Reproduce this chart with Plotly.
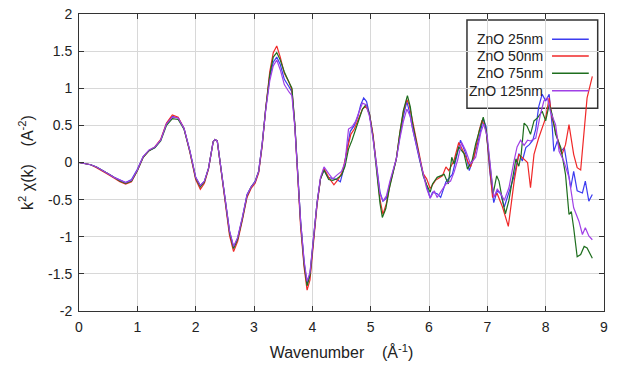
import plotly.graph_objects as go

# ---------------- data ----------------
k_head = [0, 0.1, 0.2, 0.3, 0.4, 0.5, 0.6, 0.7, 0.8, 0.9, 1.0, 1.1, 1.2, 1.3, 1.4,
          1.5, 1.6, 1.7, 1.8, 1.9, 2.0, 2.08, 2.15, 2.22, 2.3, 2.33, 2.37, 2.42, 2.5,
          2.58, 2.65, 2.72, 2.8, 2.88, 2.95, 3.02, 3.08, 3.14, 3.2, 3.27, 3.33, 3.39,
          3.45, 3.52, 3.6, 3.65, 3.7, 3.75, 3.8, 3.86, 3.91, 3.96, 4.02, 4.08, 4.14]

y25_head = [0, -0.01, -0.03, -0.06, -0.10, -0.15, -0.20, -0.24, -0.27, -0.23, -0.09, 0.08,
            0.16, 0.20, 0.30, 0.52, 0.62, 0.60, 0.46, 0.16, -0.20, -0.31, -0.25, -0.08,
            0.28, 0.31, 0.29, 0.0, -0.48, -0.92, -1.14, -1.02, -0.75, -0.43, -0.33, -0.25,
            -0.12, 0.25, 0.72, 1.15, 1.35, 1.42, 1.32, 1.12, 1.02, 0.95, 0.50, -0.20,
            -0.80, -1.35, -1.63, -1.50, -1.05, -0.55, -0.22]
y50_head = [0, -0.01, -0.03, -0.07, -0.11, -0.16, -0.21, -0.26, -0.29, -0.26, -0.11, 0.07,
            0.16, 0.21, 0.31, 0.53, 0.64, 0.61, 0.46, 0.14, -0.23, -0.36, -0.28, -0.09,
            0.28, 0.31, 0.29, -0.02, -0.52, -0.98, -1.20, -1.06, -0.78, -0.47, -0.35, -0.28,
            -0.14, 0.22, 0.72, 1.22, 1.48, 1.57, 1.42, 1.20, 1.08, 0.98, 0.50, -0.25,
            -0.88, -1.42, -1.72, -1.58, -1.10, -0.58, -0.22]
y75_head = [0, -0.01, -0.03, -0.06, -0.10, -0.15, -0.20, -0.25, -0.28, -0.25, -0.11, 0.07,
            0.16, 0.20, 0.29, 0.50, 0.59, 0.58, 0.45, 0.15, -0.21, -0.33, -0.26, -0.08,
            0.28, 0.31, 0.29, 0.0, -0.49, -0.94, -1.16, -1.03, -0.76, -0.45, -0.33, -0.26,
            -0.12, 0.24, 0.72, 1.18, 1.42, 1.48, 1.38, 1.22, 1.08, 1.00, 0.52, -0.20,
            -0.82, -1.38, -1.66, -1.52, -1.06, -0.55, -0.22]
y125_head = [0, -0.01, -0.03, -0.06, -0.10, -0.15, -0.20, -0.24, -0.27, -0.24, -0.10, 0.08,
             0.17, 0.21, 0.30, 0.52, 0.61, 0.60, 0.46, 0.16, -0.20, -0.31, -0.25, -0.08,
             0.28, 0.31, 0.29, 0.0, -0.48, -0.92, -1.13, -1.01, -0.74, -0.44, -0.33, -0.26,
             -0.12, 0.25, 0.70, 1.10, 1.30, 1.38, 1.25, 1.05, 0.95, 0.90, 0.48, -0.20,
             -0.80, -1.33, -1.60, -1.48, -1.03, -0.55, -0.20]

k25_tail = [4.2, 4.27, 4.35, 4.42, 4.48, 4.54, 4.6, 4.65, 4.72, 4.78, 4.83, 4.88, 4.93, 4.98,
            5.04, 5.1, 5.16, 5.21, 5.27, 5.33, 5.38, 5.44, 5.5, 5.56, 5.62, 5.66, 5.72, 5.78,
            5.84, 5.9, 5.96, 6.02, 6.06, 6.14, 6.2, 6.29, 6.4, 6.49, 6.54, 6.63, 6.69, 6.77,
            6.86, 6.93, 6.98, 7.04, 7.11, 7.17, 7.23, 7.29, 7.37, 7.46, 7.54, 7.6, 7.66, 7.72,
            7.78, 7.83, 7.88, 7.94, 8.0, 8.06, 8.11, 8.14, 8.2, 8.26, 8.32, 8.37, 8.43, 8.48,
            8.54, 8.63, 8.68, 8.74, 8.8]
y25_tail = [-0.10, -0.20, -0.22, -0.23, -0.26, -0.08, 0.20, 0.42, 0.50, 0.62, 0.78, 0.87, 0.82,
            0.65, 0.35, -0.05, -0.40, -0.52, -0.48, -0.28, -0.13, 0.05, 0.35, 0.62, 0.82, 0.70,
            0.45, 0.22, 0.03, -0.15, -0.30, -0.48, -0.40, -0.42, -0.47, -0.26, -0.16, 0.12,
            0.30, 0.12, -0.11, 0.07, 0.34, 0.59, 0.48, -0.11, -0.54, -0.38, -0.42, -0.60,
            -0.40, -0.18, 0.12, 0.02, 0.20, 0.24, 0.30, 0.45, 0.75, 0.92, 0.83, 0.92, 0.51,
            0.15, 0.29, 0.15, 0.20, -0.07, -0.34, -0.12, -0.38, -0.41, -0.25, -0.52, -0.43]

k50_tail = [4.2, 4.28, 4.37, 4.45, 4.52, 4.6, 4.66, 4.72, 4.8, 4.86, 4.92, 4.98, 5.04, 5.1,
            5.16, 5.21, 5.27, 5.33, 5.38, 5.44, 5.5, 5.56, 5.62, 5.66, 5.72, 5.78, 5.84, 5.9,
            5.96, 6.02, 6.11, 6.23, 6.29, 6.34, 6.43, 6.51, 6.57, 6.66, 6.71, 6.77, 6.86, 6.91,
            6.98, 7.04, 7.09, 7.17, 7.26, 7.36, 7.41, 7.46, 7.54, 7.63, 7.69, 7.74, 7.8, 7.88,
            8.0, 8.06, 8.11, 8.17, 8.28, 8.34, 8.4, 8.48, 8.54, 8.6, 8.66, 8.71, 8.8]
y50_tail = [-0.08, -0.20, -0.30, -0.22, -0.12, 0.18, 0.38, 0.45, 0.60, 0.72, 0.76, 0.65, 0.38,
            -0.05, -0.50, -0.70, -0.55, -0.30, -0.12, 0.05, 0.40, 0.68, 0.85, 0.78, 0.55, 0.32,
            0.10, -0.15, -0.22, -0.35, -0.24, -0.18, -0.06, -0.11, 0.03, 0.27, 0.18, 0.03,
            -0.06, 0.07, 0.43, 0.57, 0.43, -0.06, -0.47, -0.42, -0.60, -0.86, -0.55, -0.25,
            0.11, 0.05, 0.00, -0.34, 0.11, 0.33, 0.60, 0.87, 0.60, 0.42, 0.11, 0.24, 0.51,
            0.11, -0.07, -0.10, 0.42, 0.87, 1.16]

k75_tail = [4.2, 4.28, 4.35, 4.42, 4.5, 4.56, 4.62, 4.68, 4.74, 4.8, 4.86, 4.92, 4.98, 5.04,
            5.1, 5.16, 5.2, 5.26, 5.32, 5.38, 5.44, 5.5, 5.56, 5.63, 5.68, 5.72, 5.78, 5.84,
            5.9, 5.96, 6.02, 6.06, 6.14, 6.26, 6.33, 6.39, 6.43, 6.51, 6.6, 6.66, 6.74, 6.8,
            6.89, 6.93, 6.98, 7.04, 7.1, 7.16, 7.2, 7.26, 7.31, 7.37, 7.43, 7.49, 7.54, 7.58,
            7.63, 7.68, 7.74, 7.8, 7.86, 7.94, 8.0, 8.06, 8.11, 8.17, 8.26, 8.34, 8.4, 8.44,
            8.48, 8.54, 8.6, 8.66, 8.71, 8.8]
y75_tail = [-0.10, -0.23, -0.24, -0.22, -0.17, -0.05, 0.18, 0.30, 0.45, 0.60, 0.72, 0.78, 0.65,
            0.35, -0.10, -0.55, -0.74, -0.62, -0.35, -0.15, 0.05, 0.40, 0.70, 0.90, 0.75, 0.52,
            0.28, 0.05, -0.18, -0.30, -0.40, -0.29, -0.20, -0.16, -0.29, 0.07, -0.02, 0.21,
            0.12, -0.09, 0.03, 0.25, 0.52, 0.61, 0.43, -0.02, -0.42, -0.18, -0.25, -0.51,
            -0.69, -0.51, -0.25, 0.05, -0.05, 0.11, 0.53, 0.49, 0.38, 0.56, 0.60, 0.69, 0.56,
            0.78, 0.65, 0.38, 0.20, -0.16, -0.70, -0.66, -0.88, -1.27, -1.24, -1.13, -1.15,
            -1.29]

k125_tail = [4.2, 4.28, 4.35, 4.42, 4.5, 4.56, 4.62, 4.68, 4.74, 4.8, 4.86, 4.92, 4.98, 5.04,
             5.1, 5.16, 5.21, 5.27, 5.33, 5.38, 5.44, 5.5, 5.56, 5.62, 5.68, 5.72, 5.78, 5.84,
             5.9, 5.96, 6.02, 6.09, 6.14, 6.2, 6.29, 6.37, 6.43, 6.49, 6.56, 6.63, 6.71, 6.8,
             6.89, 6.94, 7.0, 7.06, 7.11, 7.17, 7.23, 7.29, 7.37, 7.46, 7.51, 7.57, 7.63, 7.69,
             7.74, 7.83, 7.91, 7.97, 8.03, 8.08, 8.17, 8.23, 8.31, 8.4, 8.48, 8.57, 8.63, 8.68,
             8.74, 8.8]
y125_tail = [-0.06, -0.15, -0.22, -0.17, -0.12, 0.0, 0.45, 0.48, 0.55, 0.68, 0.80, 0.78, 0.62,
             0.32, -0.05, -0.42, -0.52, -0.45, -0.25, -0.12, 0.05, 0.32, 0.55, 0.72, 0.62, 0.45,
             0.25, 0.05, -0.18, -0.35, -0.48, -0.38, -0.47, -0.40, -0.29, -0.25, -0.13, 0.03,
             0.27, 0.16, -0.02, 0.07, 0.41, 0.52, 0.34, -0.11, -0.47, -0.36, -0.42, -0.51,
             -0.34, 0.03, 0.21, 0.30, 0.23, 0.30, 0.29, 0.33, 0.65, 0.83, 0.87, 0.69, 0.51,
             0.15, 0.02, -0.20, -0.61, -0.79, -0.97, -0.88, -0.99, -1.04]

series_names = ["ZnO 25nm", "ZnO 50nm", "ZnO 75nm", "ZnO 125nm"]
series_colors = ["#3c3cf0", "#f02828", "#1e6e1e", "#a040e6"]

x_ticks = [0, 1, 2, 3, 4, 5, 6, 7, 8, 9]
y_ticks = [-2, -1.5, -1, -0.5, 0, 0.5, 1, 1.5, 2]

# ---------------- figure ----------------
series = [
    (k_head + k25_tail, y25_head + y25_tail),
    (k_head + k50_tail, y50_head + y50_tail),
    (k_head + k75_tail, y75_head + y75_tail),
    (k_head + k125_tail, y125_head + y125_tail),
]

fig = go.Figure()
for (kx, ky), name, col in zip(series, series_names, series_colors):
    fig.add_trace(go.Scatter(x=kx, y=ky, mode="lines", name=name,
                             line=dict(color=col, width=1.2)))

font_family = "Liberation Sans, Arial, sans-serif"

# Legend box in the style of the original (label on the left, line sample on
# the right), placed in the plot-area frame; curves pass over it.
leg_x0, leg_x1, leg_y0, leg_y1 = 0.739, 0.988, 0.683, 0.980
leg_text_x = 0.888
leg_line_x0, leg_line_x1 = 0.901, 0.971
leg_rows = [0.9148, 0.8586, 0.8003, 0.7418]

shapes = [dict(type="rect", xref="paper", yref="paper",
               x0=leg_x0, x1=leg_x1, y0=leg_y0, y1=leg_y1,
               fillcolor="white", line=dict(color="#333", width=1.5),
               layer="between")]
annotations = []
for name, col, ry in zip(series_names, series_colors, leg_rows):
    annotations.append(dict(xref="paper", yref="paper", x=leg_text_x, y=ry,
                            text=name, showarrow=False, xanchor="right",
                            yanchor="middle", font=dict(size=14, color="#222")))
    shapes.append(dict(type="line", xref="paper", yref="paper",
                       x0=leg_line_x0, x1=leg_line_x1, y0=ry, y1=ry,
                       line=dict(color=col, width=1.5), layer="above"))

fig.update_layout(
    width=618, height=372,
    margin=dict(l=79, r=14, t=14, b=61),
    paper_bgcolor="white", plot_bgcolor="white",
    font=dict(family=font_family, size=14, color="#222"),
    showlegend=False,
    shapes=shapes, annotations=annotations,
)
nb = "\u00a0"
fig.update_xaxes(
    range=[0, 9], tickvals=x_ticks, ticktext=[str(v) for v in x_ticks],
    showgrid=True, gridcolor="#d8d8d8", gridwidth=1,
    showline=True, linecolor="#333", linewidth=1, mirror="ticks",
    ticks="inside", ticklen=5, tickcolor="#333", ticklabelstandoff=3,
    zeroline=False, automargin=False,
    title=dict(text="Wavenumber" + nb * 4 + "(Å<sup>-1</sup>)", font=dict(size=16), standoff=13),
)
fig.update_yaxes(
    range=[-2, 2], tickvals=y_ticks, ticktext=[f"{v:g}" for v in y_ticks],
    showgrid=True, gridcolor="#d8d8d8", gridwidth=1,
    showline=True, linecolor="#333", linewidth=1, mirror="ticks",
    ticks="inside", ticklen=5, tickcolor="#333", ticklabelstandoff=3,
    zeroline=False, automargin=False,
    title=dict(text="k<sup>2</sup> χ(k)" + nb * 4 + "(A<sup>-2</sup>)", font=dict(size=16), standoff=10),
)

# remove the default page margin so the figure sits at the window's corner
fig.write_html("out.html", config={"displayModeBar": False},
               post_script="document.body.style.margin='0';")
